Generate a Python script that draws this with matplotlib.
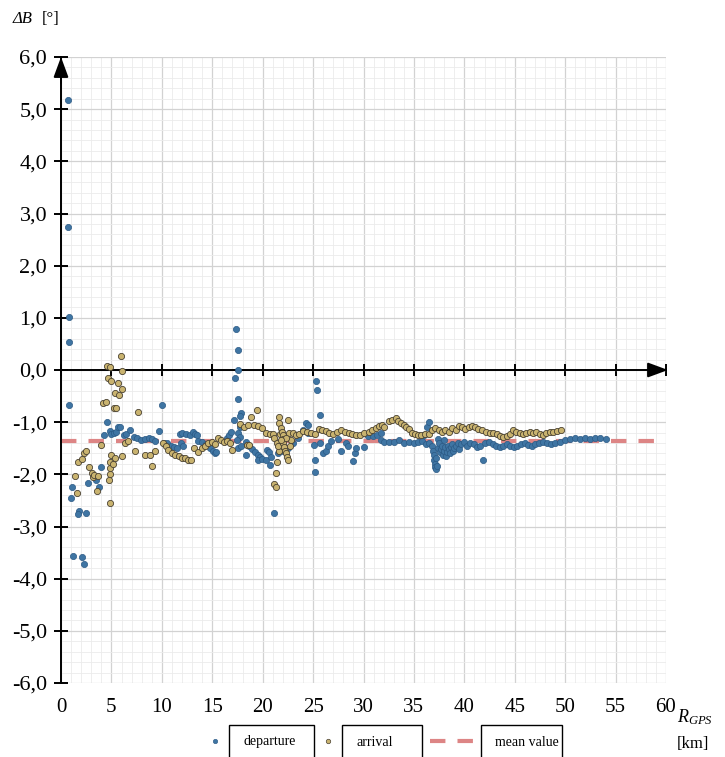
import numpy as np
import matplotlib
matplotlib.use("Agg")
import matplotlib.pyplot as plt
from matplotlib.ticker import MultipleLocator, FuncFormatter
from matplotlib.lines import Line2D
from matplotlib.path import Path

plt.rcParams['font.family'] = ['Liberation Serif', 'DejaVu Serif']
plt.rcParams['mathtext.fontset'] = 'custom'
plt.rcParams['mathtext.rm'] = 'Liberation Serif'
plt.rcParams['mathtext.it'] = 'Liberation Serif:italic'

# ---------------- data ----------------
departure_r = [
    0.7, 0.7, 0.8, 0.8, 0.8, 1.1, 0.96, 1.8, 1.65, 2.5, 1.2, 2.1, 2.3, 2.65, 3.5, 3.8, 4.0, 4.3,
    4.6, 4.9, 5.0, 5.3, 5.5, 5.7, 5.85, 6.2, 6.45, 6.8, 7.2, 7.5, 7.9, 8.3, 8.7, 9.0, 9.3, 9.75,
    10.0, 10.2, 10.5, 10.9, 11.2, 11.5,
    11.8, 11.9, 12.0, 12.1, 12.4, 12.8, 13.1, 13.3, 13.5, 13.6, 14.0, 14.4, 14.8, 15.1, 15.3, 15.4,
    16.5, 16.7,
    16.9, 17.2, 17.3, 17.4, 17.6, 17.6, 17.6, 17.9, 17.75, 17.75, 17.6, 17.8, 17.5, 17.6, 17.9,
    18.3, 18.3, 18.6, 18.9, 19.2, 19.5, 19.7, 19.5, 19.9, 20.3, 20.4, 20.6, 20.8, 20.7, 21.1,
    21.5, 22.0, 22.5, 23.0, 23.5, 24.0, 24.3, 24.5, 24.5, 25.1, 25.2, 25.2, 25.3, 25.4, 25.7,
    25.7, 26.0, 26.3, 26.5, 26.8, 27.5, 27.8, 28.3, 28.5, 29.0, 29.2, 29.3, 30.0, 30.4, 30.9,
    31.3, 31.7, 31.7, 32.0, 32.5, 33.0, 33.5, 34.0, 34.5, 35.0, 35.4, 35.8, 36.0, 36.3, 36.5,
    36.2, 36.5, 36.8, 36.9, 37.0, 37.0, 37.1, 37.1, 37.2, 37.3, 37.2, 37.4, 37.4, 37.5, 37.6,
    37.7, 37.8, 37.9, 38.0, 38.0, 38.1, 38.2, 38.3, 38.4, 38.5, 38.6, 38.7, 38.8, 38.9, 39.0,
    39.2, 39.4, 39.5, 39.7, 40.0,
    40.3, 40.6, 41.0, 41.3, 41.6, 41.9, 42.0, 42.4, 42.8, 43.1, 43.5, 43.8, 44.2, 44.5, 44.9,
    45.2, 45.6, 46.0, 46.3, 46.7, 47.0, 47.4, 47.8, 48.2, 48.6, 49.0, 49.5, 50.0, 50.5, 51.0,
    51.5, 52.0, 52.5, 53.0, 53.5, 54.0,
]
departure_db = [
    5.17, 2.74, 1.02, 0.54, -0.68, -2.24, -2.45, -2.70, -2.76, -2.75, -3.56, -3.58, -3.72, -2.16, -2.10, -2.25, -1.86, -1.25,
    -1.00, -1.16, -1.22, -1.20, -1.18, -1.10, -1.09, -1.25, -1.23, -1.15, -1.28, -1.30, -1.35, -1.32, -1.30, -1.33, -1.37, -1.16,
    -0.68, -1.40, -1.40, -1.45, -1.48, -1.50,
    -1.22, -1.40, -1.20, -1.45, -1.22, -1.25, -1.18, -1.22, -1.25, -1.37, -1.38, -1.42, -1.50, -1.55, -1.60, -1.58,
    -1.30, -1.25,
    -1.18, -0.96, -0.16, 0.78, 0.38, 0.00, -0.56, -0.83, -0.89, -1.09, -1.20, -1.28, -1.35, -1.50, -1.45,
    -1.38, -1.62, -1.45, -1.52, -1.58, -1.62, -1.66, -1.72, -1.70, -1.72, -1.53, -1.58, -1.66, -1.82, -2.75,
    -1.60, -1.55, -1.50, -1.40, -1.30, -1.15, -1.02, -1.05, -1.20, -1.44, -1.72, -1.95, -0.22, -0.38, -0.87,
    -1.40, -1.60, -1.55, -1.45, -1.36, -1.32, -1.55, -1.40, -1.45, -1.75, -1.60, -1.50, -1.47, -1.27, -1.27,
    -1.24, -1.20, -1.34, -1.38, -1.38, -1.38, -1.35, -1.40, -1.38, -1.40, -1.38, -1.36, -1.25, -1.10, -1.00,
    -1.42, -1.40, -1.45, -1.55, -1.62, -1.72, -1.80, -1.86, -1.90, -1.84, -1.68, -1.50, -1.32, -1.40, -1.58,
    -1.52, -1.45, -1.62, -1.55, -1.35, -1.48, -1.65, -1.58, -1.45, -1.52, -1.60, -1.48, -1.42, -1.55, -1.50,
    -1.45, -1.40, -1.52, -1.42, -1.38,
    -1.45, -1.40, -1.42, -1.48, -1.45, -1.72, -1.40, -1.38, -1.42, -1.45, -1.48, -1.45, -1.42, -1.45, -1.48,
    -1.45, -1.42, -1.40, -1.43, -1.45, -1.42, -1.40, -1.38, -1.40, -1.42, -1.40, -1.38, -1.35, -1.33, -1.30,
    -1.32, -1.30, -1.33, -1.31, -1.30, -1.33,
]

arrival_r = [
    1.4, 1.55, 1.65, 2.05, 2.3, 2.45, 2.8, 3.05, 3.2, 3.3, 3.6, 3.7, 4.0, 4.2, 4.5, 4.6, 4.86, 4.7,
    5.0, 5.7, 5.95, 6.0, 6.0, 5.4, 5.8, 5.3, 5.5, 4.86, 4.96, 5.36, 6.0, 4.9, 4.85, 4.85, 4.8, 5.2,
    6.35, 6.6, 7.3, 7.6,
    8.3, 8.8, 9.0, 9.3, 10.1, 10.4, 10.6, 11.0, 11.3, 11.7, 12.0, 12.3, 12.6, 12.9, 13.2, 13.6,
    14.0, 14.3, 14.6, 15.0, 15.3, 15.6, 15.9, 16.2, 16.5, 16.8, 17.0,
    17.8, 18.1, 18.4, 18.6, 18.5, 18.85, 19.4, 19.1, 19.5, 19.9, 20.3, 20.7, 21.0, 21.1, 21.3,
    21.3, 21.4, 21.1, 21.4, 21.6, 21.5,
    21.6, 21.6, 21.8, 21.7, 21.9, 22.0, 22.0, 22.0, 22.1, 22.2, 22.3, 22.4, 22.5, 22.5, 22.6,
    23.0, 23.3, 22.8, 22.3, 21.8, 22.7,
    23.6, 24.0, 24.4, 24.8, 25.2, 25.6, 25.9, 26.3, 26.6, 27.0, 27.4, 27.8, 28.2, 28.6, 28.9,
    29.3, 29.7, 30.0, 30.5, 30.8, 31.2, 31.5, 31.8, 32.0, 32.5, 32.8, 33.2, 33.4, 33.7, 34.0,
    34.2, 34.5, 34.8, 35.1, 35.4, 35.7, 36.1,
    36.5, 36.8, 37.1, 37.5, 37.8, 38.1, 38.5, 38.8, 39.2, 39.5, 39.8, 40.1, 40.5, 40.8, 41.1,
    41.4, 41.8, 42.1, 42.5, 42.8, 43.2, 43.5, 43.8, 44.2, 44.5, 44.8, 45.1, 45.5, 45.8, 46.1,
    46.5, 46.8, 47.1, 47.5, 47.8, 48.1, 48.5, 48.8, 49.2, 49.6,
]
arrival_db = [
    -2.04, -2.35, -1.76, -1.70, -1.60, -1.56, -1.86, -1.98, -2.05, -2.01, -2.31, -2.03, -1.44, -0.64, -0.62, 0.08, 0.06, -0.15,
    -0.21, -0.24, 0.26, -0.02, -0.37, -0.45, -0.47, -0.73, -0.72, -2.54, -1.63, -1.69, -1.65, -1.76, -1.87, -2.00, -2.10, -1.80,
    -1.40, -1.36, -1.56, -0.80,
    -1.63, -1.63, -1.84, -1.56, -1.40, -1.46, -1.53, -1.59, -1.62, -1.65, -1.68, -1.68, -1.72, -1.72, -1.50, -1.58,
    -1.50, -1.45, -1.40, -1.38, -1.42, -1.30, -1.35, -1.38, -1.36, -1.40, -1.53,
    -1.03, -1.10, -1.43, -1.43, -1.05, -0.91, -0.77, -1.05, -1.08, -1.12, -1.20, -1.22, -1.22, -2.18, -2.24,
    -1.97, -1.76, -1.30, -1.40, -1.55, -1.45,
    -0.90, -1.02, -1.12, -1.22, -1.18, -1.25, -1.32, -1.40, -1.48, -1.55, -1.60, -1.66, -1.72, -0.95, -1.20,
    -1.20, -1.25, -1.35, -1.30, -1.35, -1.45,
    -1.22, -1.16, -1.18, -1.20, -1.22, -1.14, -1.15, -1.17, -1.20, -1.22, -1.19, -1.15, -1.18, -1.21, -1.23,
    -1.25, -1.25, -1.21, -1.18, -1.15, -1.12, -1.08, -1.05, -1.10, -0.98, -0.95, -0.92, -0.98, -1.02, -1.05,
    -1.10, -1.13, -1.20, -1.23, -1.24, -1.25, -1.22,
    -1.22, -1.15, -1.12, -1.15, -1.18, -1.15, -1.18, -1.11, -1.15, -1.08, -1.10, -1.13, -1.10, -1.07, -1.10,
    -1.13, -1.15, -1.18, -1.20, -1.20, -1.23, -1.26, -1.28, -1.26, -1.22, -1.15, -1.18, -1.20, -1.22, -1.20,
    -1.18, -1.20, -1.18, -1.22, -1.25, -1.20, -1.18, -1.18, -1.16, -1.15,
]

mean_value = -1.37

x_ticks = [0, 5, 10, 15, 20, 25, 30, 35, 40, 45, 50, 55, 60]
y_ticks = [-6, -5, -4, -3, -2, -1, 0, 1, 2, 3, 4, 5, 6]
legend_labels = ["departure", "arrival", "mean value"]

# ---------------- styles ----------------
dep_face = '#3f75a3'
dep_edge = '#2b5a85'
arr_face = '#c9b36f'
arr_edge = '#4a4232'
mean_color = '#dd8585'

fig = plt.figure(figsize=(7.25, 7.57), dpi=100)
ax = fig.add_axes([61/725, 1 - 683/757, (666 - 61)/725, (683 - 57)/757])

ax.set_xlim(0, 60)
ax.set_ylim(-6, 6)

# grid
ax.xaxis.set_minor_locator(MultipleLocator(1))
ax.yaxis.set_minor_locator(MultipleLocator(0.2))
ax.set_xticks(x_ticks)
ax.set_yticks(y_ticks)
ax.grid(which='minor', color='#ebebeb', lw=0.6)
ax.grid(which='major', color='#d2d2d2', lw=0.9)
ax.set_axisbelow(True)

# spines: y axis at x=0, x axis at y=0
for s in ['top', 'right']:
    ax.spines[s].set_visible(False)
ax.spines['bottom'].set_position(('data', 0))
ax.spines['bottom'].set_linewidth(1.4)
ax.spines['left'].set_linewidth(1.4)
ax.spines['bottom'].set_zorder(1.5)

ax.tick_params(axis='x', which='major', direction='inout', length=9, width=1.4,
               labelbottom=False)
ax.tick_params(axis='y', which='major', direction='inout', length=10, width=1.4,
               labelsize=16, pad=5)
ax.tick_params(which='minor', length=0)
ax.yaxis.set_major_formatter(FuncFormatter(lambda v, p: f"{v:.1f}".replace('.', ',')))

# x labels at the bottom
sec = ax.secondary_xaxis('bottom')
sec.set_xticks(x_ticks)
sec.spines['bottom'].set_visible(False)
sec.tick_params(length=0, labelsize=15, pad=11)
sec.xaxis.set_major_formatter(FuncFormatter(lambda v, p: f"{v:.0f}"))

# arrowheads
ax.annotate('', xy=(0, 6.0), xytext=(0, 5.5), annotation_clip=False,
            arrowprops=dict(arrowstyle='-|>,head_length=0.95,head_width=0.35',
                            color='black', lw=1.4, shrinkA=0, shrinkB=0, mutation_scale=13))
ax.annotate('', xy=(60.2, 0), xytext=(59.0, 0), annotation_clip=False,
            arrowprops=dict(arrowstyle='-|>,head_length=0.95,head_width=0.35',
                            color='black', lw=1.4, shrinkA=0, shrinkB=0, mutation_scale=13))

# mean line
ax.axhline(mean_value, color=mean_color, lw=3.0, ls=(0, (3.7, 2.9)), zorder=2)

# scatter
ax.scatter(departure_r, departure_db, s=20, color=dep_face, edgecolors=dep_edge,
           linewidths=0.5, zorder=3)
ax.scatter(arrival_r, arrival_db, s=20, color=arr_face, edgecolors=arr_edge,
           linewidths=0.6, zorder=4)

# axis titles
fig.text(13/725, 1 - 19/757, 'ΔB', fontsize=12, fontstyle='italic', va='center', ha='left')
fig.text(42/725, 1 - 19/757, '[°]', fontsize=12, va='center', ha='left')
fig.text(677/725, 1 - 717/757, r'$R_{GPS}$', fontsize=13, va='center', ha='left')
fig.text(677/725, 1 - 744/757, '[km]', fontsize=12, va='center', ha='left')

# legend with fixed-width boxed labels
def fixed_box(box_w, lpad, vpad):
    def box(x0, y0, width, height, mutation_size):
        l = x0 - lpad
        r = l + box_w
        b = y0 - vpad
        t = y0 + height + vpad
        return Path([(l, b), (r, b), (r, t), (l, t), (l, b)],
                    [Path.MOVETO, Path.LINETO, Path.LINETO, Path.LINETO, Path.CLOSEPOLY])
    return box

handles = [
    Line2D([], [], ls='', marker='o', markersize=3.2, markerfacecolor=dep_face,
           markeredgecolor=dep_edge, markeredgewidth=0.4),
    Line2D([], [], ls='', marker='o', markersize=3.2, markerfacecolor=arr_face,
           markeredgecolor=arr_edge, markeredgewidth=0.5),
    Line2D([], [], color=mean_color, lw=3.0, ls=(0, (3.7, 2.9))),
]
anchors = [208/725, 321/725, 430/725]
hlens = [1.0, 1.0, 3.1]
box_widths = [85, 80, 81]
for h, lab, ax_x, hl, bw in zip(handles, legend_labels, anchors, hlens, box_widths):
    leg = fig.legend(handles=[h], labels=[lab], loc='center left',
                     bbox_to_anchor=(ax_x, 1 - 742/757), frameon=False,
                     fontsize=10, handlelength=hl, handletextpad=1.55,
                     borderpad=0, borderaxespad=0)
    for t in leg.get_texts():
        t.set_bbox(dict(boxstyle=fixed_box(bw, 14, 11), facecolor='white',
                        edgecolor='black', linewidth=1.0))

fig.savefig('out.png', dpi=100)
